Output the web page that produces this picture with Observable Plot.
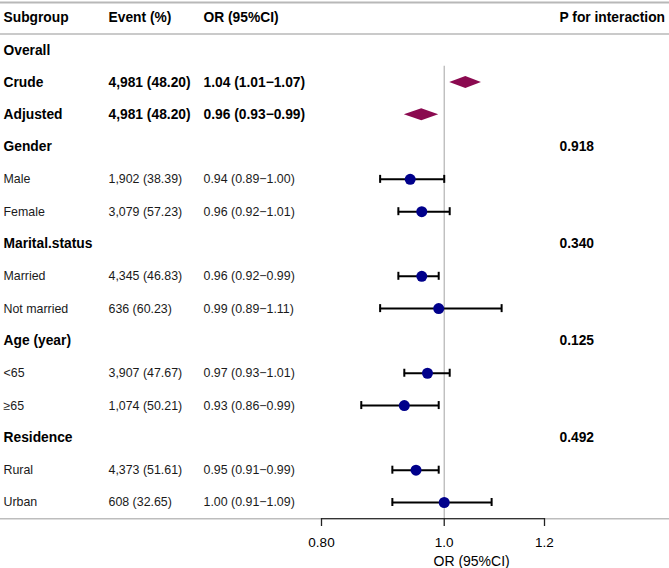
<!DOCTYPE html>
<html><head><meta charset="utf-8">
<script src="https://cdn.jsdelivr.net/npm/d3@7"></script>
<script src="https://cdn.jsdelivr.net/npm/@observablehq/plot@0.6"></script>
<style>body{margin:0;background:#fff}</style>
</head><body><div id="chart"></div>
<script>
// ---- data ----
const headers = ["Subgroup", "Event (%)", "OR (95%CI)", "P for interaction"];
const subgroups = ["Overall", "Crude", "Adjusted", "Gender", "Male", "Female", "Marital.status", "Married", "Not married", "Age (year)", "<65", "≥65", "Residence", "Rural", "Urban"];
const isBold = [true, true, true, true, false, false, true, false, false, true, false, false, true, false, false];
const isSummary = [false, true, true, false, false, false, false, false, false, false, false, false, false, false, false];
const events = ["", "4,981 (48.20)", "4,981 (48.20)", "", "1,902 (38.39)", "3,079 (57.23)", "", "4,345 (46.83)", "636 (60.23)", "", "3,907 (47.67)", "1,074 (50.21)", "", "4,373 (51.61)", "608 (32.65)"];
const orEst = [null, 1.04, 0.96, null, 0.94, 0.96, null, 0.96, 0.99, null, 0.97, 0.93, null, 0.95, 1.00];
const orLow = [null, 1.01, 0.93, null, 0.89, 0.92, null, 0.92, 0.89, null, 0.93, 0.86, null, 0.91, 0.91];
const orHigh = [null, 1.07, 0.99, null, 1.00, 1.01, null, 0.99, 1.11, null, 1.01, 0.99, null, 0.99, 1.09];
const pInteraction = ["", "", "", "0.918", "", "", "0.340", "", "", "0.125", "", "", "0.492", "", ""];
const tickValues = [0.8, 1.0, 1.2];
const tickLabels = ["0.80", "1.0", "1.2"];
const axisTitle = "OR (95%CI)";

// ---- derived table ----
const rows = subgroups.map((s, i) => ({
  row: i + 1,
  label: s,
  bold: isBold[i],
  summary: isSummary[i],
  event: events[i],
  est: orEst[i], lo: orLow[i], hi: orHigh[i],
  orText: orEst[i] == null ? "" : `${orEst[i].toFixed(2)} (${orLow[i].toFixed(2)}\u2212${orHigh[i].toFixed(2)})`,
  p: pInteraction[i]
}));
const boldRows = rows.filter(d => d.bold);
const plainRows = rows.filter(d => !d.bold);
const pointRows = rows.filter(d => d.est != null && !d.summary);
const summaryRows = rows.filter(d => d.summary);

const yTop = 17.3, yBottom = 502, nSteps = 15;
const rowPx = (yBottom - yTop) / nSteps;
const diamondHalf = 6 / rowPx;
const capHalf = 4 / rowPx;

const diamondPts = summaryRows.flatMap(d => [
  {key: d.label, x: d.lo, y1: d.row, y2: d.row},
  {key: d.label, x: d.est, y1: d.row - diamondHalf, y2: d.row + diamondHalf},
  {key: d.label, x: d.hi, y1: d.row, y2: d.row}
]);

const BOLD = 13.8, REG = 12.4;
const colDx = [3, 108, 203, 559];

function col(data, field, c, bold) {
  return Plot.text(data, {
    frameAnchor: "left", y: "row", dx: colDx[c], text: field,
    textAnchor: "start", fill: bold ? "black" : "#1a1a1a",
    fontWeight: bold ? "bold" : "normal", fontSize: bold ? BOLD : REG
  });
}

const headerMarks = headers.map((h, i) => Plot.text([h], {
  frameAnchor: "left", y: () => 0, dx: colDx[i], text: d => d,
  textAnchor: "start", fill: "black", fontWeight: "bold", fontSize: BOLD
}));

const chart = Plot.plot({
  width: 669, height: 568,
  marginLeft: 0, marginRight: 0, marginTop: 0, marginBottom: 50,
  style: {fontFamily: "'Liberation Sans', Arial, sans-serif", background: "white", color: "black"},
  x: {type: "log", domain: [0.8, 1.2], range: [321, 544]},
  y: {domain: [0, nSteps], range: [yTop, yBottom], axis: null},
  marks: [
    // horizontal table lines
    Plot.ruleY([-0.47], {stroke: "#b8b8b8", strokeWidth: 2}),
    Plot.ruleY([0.5], {stroke: "#b8b8b8", strokeWidth: 1.5}),
    Plot.ruleY([15.5], {stroke: "#bdbdbd", strokeWidth: 1.5}),
    Plot.ruleY([15.5], {x1: tickValues[0], x2: tickValues[tickValues.length - 1], stroke: "#333", strokeWidth: 1.3}),
    // reference line
    Plot.ruleX([1], {y1: 1.5, y2: 15.5, stroke: "#b3b3b3", strokeWidth: 1.2}),
    // header row
    ...headerMarks,
    // table columns
    col(boldRows, "label", 0, true),
    col(plainRows, "label", 0, false),
    col(boldRows, "event", 1, true),
    col(plainRows, "event", 1, false),
    col(boldRows, "orText", 2, true),
    col(plainRows, "orText", 2, false),
    col(boldRows, "p", 3, true),
    // diamonds
    Plot.areaY(diamondPts, {x: "x", y1: "y1", y2: "y2", z: "key", fill: "#8B0A50"}),
    // CI bars
    Plot.ruleY(pointRows, {x1: "lo", x2: "hi", y: "row", stroke: "black", strokeWidth: 2}),
    Plot.ruleX(pointRows, {x: "lo", y1: d => d.row - capHalf, y2: d => d.row + capHalf, stroke: "black", strokeWidth: 2}),
    Plot.ruleX(pointRows, {x: "hi", y1: d => d.row - capHalf, y2: d => d.row + capHalf, stroke: "black", strokeWidth: 2}),
    Plot.dot(pointRows, {x: "est", y: "row", r: 5.5, fill: "#00008B", stroke: "none"}),
    // axis
    Plot.axisX({anchor: "bottom", ticks: tickValues, tickFormat: d => tickLabels[tickValues.indexOf(d)], tickSize: 8, tickPadding: 11, fontSize: 13.5, stroke: "#222", strokeWidth: 1.3, label: null}),
    Plot.text([axisTitle], {frameAnchor: "bottom-left", lineAnchor: "middle", dx: 433, dy: 43, fontSize: 14, fill: "black"})
  ]
});

document.getElementById("chart").append(chart);
</script>
</body></html>
